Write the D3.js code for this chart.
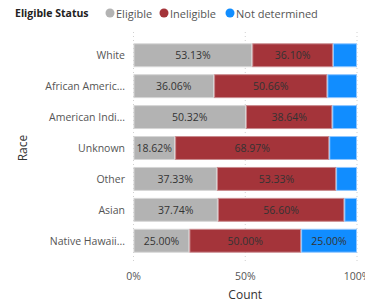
<!DOCTYPE html>
<html><head><meta charset="utf-8">
<script src="https://cdn.jsdelivr.net/npm/d3@7"></script>
<style>body{margin:0;background:#fff;} svg{display:block;font-family:"Segoe UI","Open Sans","Noto Sans",sans-serif;}</style>
</head><body><svg id="c" width="365" height="302"></svg>
<script>
const categories = ["White","African Americ...","American Indi...","Unknown","Other","Asian","Native Hawaii..."];
const seriesNames = ["Eligible","Ineligible","Not determined"];
const eligible =      [53.13, 36.06, 50.32, 18.62, 37.33, 37.74, 25.00];
const ineligible =    [36.10, 50.66, 38.64, 68.97, 53.33, 56.60, 50.00];
const notDetermined = [10.77, 13.28, 11.04, 12.41,  9.34,  5.66, 25.00];
const xTicks = [0, 50, 100];
const colors = ["#B3B3B3","#A4343A","#118DFF"];
const strokes = ["#D6D6D6","#C98A8E","#8FC6FF"];

const svg = d3.select("#c");
const rows = categories.map((c,i)=>({cat:c, Eligible:eligible[i], Ineligible:ineligible[i], "Not determined":notDetermined[i]}));
const stack = d3.stack().keys(seriesNames)(rows);

const x = d3.scaleLinear().domain([0,100]).range([133.5,357]);
const y = d3.scaleBand().domain(categories).range([39.8,256.2]).paddingInner(0.226).paddingOuter(0.113);

// gridlines
svg.append("g").selectAll("line").data(xTicks).join("line")
  .attr("x1",d=>x(d)).attr("x2",d=>x(d)).attr("y1",32).attr("y2",264)
  .attr("stroke","#D0D0D0").attr("stroke-dasharray","1,3");

// bars
stack.forEach((s,si)=>{
  svg.append("g").selectAll("rect").data(s).join("rect")
    .attr("x",d=>x(d[0])+0.5).attr("y",d=>y(d.data.cat)+0.5)
    .attr("width",d=>Math.max(0,x(d[1])-x(d[0])-1)).attr("height",y.bandwidth()-1)
    .attr("fill",colors[si]).attr("stroke",strokes[si]).attr("stroke-width",1);
  svg.append("g").selectAll("text").data(s.filter(d=>(x(d[1])-x(d[0]))>34)).join("text")
    .attr("x",d=>(x(d[0])+x(d[1]))/2).attr("y",d=>y(d.data.cat)+y.bandwidth()/2)
    .attr("text-anchor","middle").attr("dominant-baseline","central")
    .attr("font-size",10.5).attr("fill","#333")
    .text(d=>(d[1]-d[0]).toFixed(2)+"%");
});

// y axis labels
svg.append("g").selectAll("text").data(categories).join("text")
  .attr("x",125).attr("y",d=>y(d)+y.bandwidth()/2)
  .attr("text-anchor","end").attr("dominant-baseline","central")
  .attr("font-size",10.5).attr("fill","#555").text(d=>d);

// x axis tick labels
svg.append("g").selectAll("text").data(xTicks).join("text")
  .attr("x",d=>x(d)).attr("y",276).attr("text-anchor","middle").attr("dominant-baseline","central")
  .attr("font-size",10.5).attr("fill","#555").text(d=>d+"%");

svg.append("text").attr("x",x(50)).attr("y",294).attr("text-anchor","middle").attr("dominant-baseline","central")
  .attr("font-size",12).attr("fill","#333").text("Count");
svg.append("text").attr("transform","translate(22,148) rotate(-90)").attr("text-anchor","middle").attr("dominant-baseline","central")
  .attr("font-size",12).attr("fill","#333").text("Race");

// legend
const lg = svg.append("g");
lg.append("text").attr("x",15).attr("y",13).attr("dominant-baseline","central").attr("font-size",10.5).attr("font-weight","bold").attr("fill","#222").text("Eligible Status");
const lx = [110,164,230];
seriesNames.forEach((n,i)=>{
  lg.append("circle").attr("cx",lx[i]).attr("cy",13).attr("r",4.5).attr("fill",colors[i]);
  lg.append("text").attr("x",lx[i]+6).attr("y",13).attr("dominant-baseline","central").attr("font-size",11).attr("fill","#555").text(n);
});
</script></body></html>
